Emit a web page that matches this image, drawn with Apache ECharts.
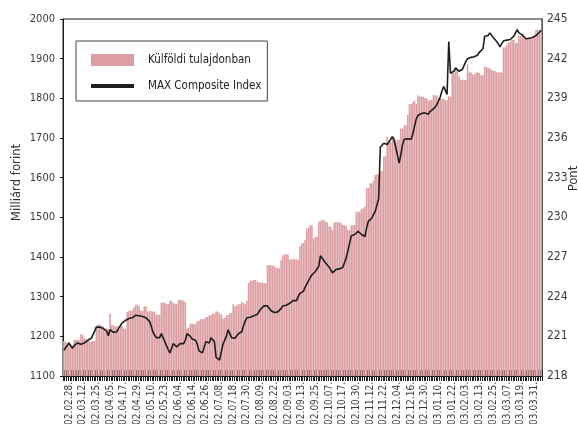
<!DOCTYPE html>
<html>
<head>
<meta charset="utf-8">
<script src="https://cdn.jsdelivr.net/npm/echarts@6.0.0/dist/echarts.min.js"></script>
<style>
	html, body { margin: 0; padding: 0; background: #fff; }
	#chart { width: 578px; height: 424px; }
</style>
</head>
<body>
<div id="chart"></div>
<script>
// dátum feliratok (minden 8. kereskedési nap)
const tickLabels = ["02.02.28.", "02.03.12.", "02.03.25.", "02.04.05.", "02.04.17.", "02.04.29.", "02.05.10.",
	"02.05.23.", "02.06.04.", "02.06.14.", "02.06.26.", "02.07.08.", "02.07.18.", "02.07.30.", "02.08.09.",
	"02.08.22.", "02.09.03.", "02.09.13.", "02.09.25.", "02.10.07.", "02.10.17.", "02.10.30.", "02.11.12.",
	"02.11.22.", "02.12.04.", "02.12.16.", "02.12.30.", "03.01.10.", "03.01.22.", "03.02.03.", "03.02.13.",
	"03.02.25.", "03.03.07.", "03.03.19.", "03.03.31."]
const firstLabel = 3
const labelStep = 8

// Külföldi tulajdonban (milliárd forint), napi
const foreignHoldings = [
	1188, 1186, 1183, 1178, 1172, 1176, 1190, 1192, 1191, 1190,
	1206, 1203, 1195, 1193, 1190, 1188, 1187, 1188, 1189, 1224,
	1230, 1229, 1226, 1225, 1219, 1220, 1218, 1257, 1229, 1228,
	1226, 1225, 1224, 1225, 1226, 1220, 1219, 1262, 1264, 1265,
	1266, 1273, 1279, 1280, 1276, 1265, 1264, 1275, 1276, 1263,
	1263, 1264, 1262, 1263, 1255, 1254, 1255, 1285, 1285, 1284,
	1282, 1281, 1290, 1289, 1284, 1282, 1281, 1291, 1292, 1291,
	1290, 1286, 1220, 1222, 1232, 1232, 1231, 1231, 1238, 1239,
	1243, 1243, 1244, 1249, 1249, 1253, 1254, 1257, 1257, 1263,
	1262, 1257, 1256, 1245, 1246, 1253, 1253, 1259, 1259, 1281,
	1276, 1277, 1281, 1281, 1286, 1285, 1281, 1290, 1335, 1340,
	1341, 1342, 1342, 1338, 1336, 1336, 1336, 1334, 1334, 1379,
	1380, 1379, 1378, 1378, 1373, 1372, 1371, 1392, 1404, 1406,
	1407, 1406, 1394, 1394, 1395, 1394, 1394, 1393, 1427, 1434,
	1436, 1442, 1472, 1474, 1480, 1480, 1446, 1450, 1451, 1489,
	1490, 1493, 1493, 1489, 1488, 1477, 1476, 1468, 1487, 1487,
	1488, 1487, 1486, 1481, 1480, 1479, 1468, 1468, 1480, 1480,
	1481, 1514, 1514, 1515, 1522, 1522, 1527, 1573, 1574, 1586,
	1586, 1592, 1607, 1608, 1608, 1616, 1617, 1653, 1655, 1703,
	1690, 1689, 1703, 1703, 1695, 1695, 1696, 1724, 1724, 1732,
	1732, 1758, 1785, 1786, 1790, 1794, 1786, 1808, 1804, 1805,
	1804, 1801, 1800, 1795, 1795, 1796, 1808, 1808, 1807, 1801,
	1801, 1799, 1799, 1795, 1795, 1805, 1804, 1863, 1864, 1876,
	1876, 1855, 1846, 1847, 1846, 1846, 1886, 1865, 1865, 1860,
	1860, 1865, 1865, 1864, 1858, 1858, 1879, 1879, 1876, 1876,
	1872, 1869, 1869, 1866, 1865, 1866, 1865, 1928, 1929, 1935,
	1941, 1942, 1947, 1947, 1939, 1940, 1958, 1958, 1957, 1950,
	1950, 1951, 1952, 1951, 1950, 1954, 1972, 1972, 1971, 1968
]

// MAX Composite Index (pont), napi
const maxIndex = [
	219.95, 220.1, 220.3, 220.5, 220.5, 220.1, 220.3, 220.45, 220.5, 220.5,
	220.4, 220.4, 220.5, 220.6, 220.7, 220.8, 220.85, 221.0, 221.4, 221.7,
	221.7, 221.7, 221.65, 221.6, 221.6, 221.4, 221.05, 221.5, 221.35, 221.3,
	221.35, 221.35, 221.6, 221.8, 222.0, 222.1, 222.2, 222.25, 222.35, 222.4,
	222.4, 222.5, 222.6, 222.7, 222.55, 222.5, 222.5, 222.45, 222.4, 222.3,
	222.15, 221.8, 221.35, 221.1, 220.9, 220.9, 220.9, 221.2, 220.9, 220.6,
	220.3, 220.0, 219.75, 220.1, 220.45, 220.3, 220.2, 220.35, 220.45, 220.45,
	220.45, 220.7, 221.2, 221.1, 221.0, 220.8, 220.75, 220.7, 220.4, 219.9,
	219.75, 219.75, 219.9, 220.6, 220.45, 220.5, 220.9, 220.8, 220.6, 219.4,
	219.25, 219.2, 219.06, 220.4, 220.4, 221.0, 221.5, 221.2, 220.9, 220.85,
	220.85, 221.0, 221.2, 221.25, 221.35, 221.8, 222.15, 222.4, 222.5, 222.45,
	222.45, 222.55, 222.6, 222.65, 222.8, 223.05, 223.2, 223.3, 223.35, 223.3,
	223.2, 222.95, 222.85, 222.8, 222.85, 222.85, 222.85, 223.1, 223.3, 223.35,
	223.35, 223.4, 223.5, 223.6, 223.7, 223.7, 223.7, 224.0, 224.25, 224.3,
	224.4, 224.7, 224.95, 225.2, 225.45, 225.65, 225.8, 225.9, 226.0, 226.3,
	227.1, 226.9, 226.75, 226.55, 226.45, 226.25, 226.1, 225.8, 225.85, 226.05,
	226.1, 226.1, 226.15, 226.2, 226.2, 226.9, 227.45, 227.6, 228.6, 228.75,
	228.7, 228.7, 228.95, 228.8, 228.7, 228.7, 228.55, 229.2, 229.7, 229.85,
	229.95, 230.2, 230.45, 230.6, 231.4, 235.3, 235.35, 235.6, 235.75, 235.5,
	235.7, 235.9, 236.1, 235.85, 235.3, 234.7, 234.1, 234.75, 235.5, 235.9,
	236.05, 235.95, 235.9, 235.9, 236.3, 236.9, 237.45, 237.7, 237.8, 237.85,
	237.8, 237.9, 237.85, 237.8, 238.0, 238.1, 238.2, 238.35, 238.5, 238.8,
	239.1, 239.55, 239.9, 239.9, 239.3, 243.3, 240.9, 241.0, 241.05, 241.3,
	241.25, 241.05, 240.95, 241.2, 241.2, 241.8, 242.0, 242.05, 242.1, 242.15,
	242.15, 242.15, 242.3, 242.5, 242.6, 242.75, 243.7, 243.8, 243.75, 243.95,
	243.85, 243.6, 243.45, 243.3, 243.1, 242.9, 243.15, 243.35, 243.4, 243.4,
	243.4, 243.45, 243.55, 243.7, 243.95, 244.2, 243.95, 243.8, 243.8, 243.7,
	243.5, 243.45, 243.55, 243.6, 243.6, 243.65, 243.75, 243.85, 244.0, 244.15
]

const isLabelDay = (i) => i >= firstLabel && (i - firstLabel) % labelStep === 0
const categories = foreignHoldings.map((v, i) => isLabelDay(i) ? tickLabels[(i - firstLabel) / labelStep] : "n" + i)

const font = "'Liberation Sans Narrow', 'DejaVu Sans Condensed', 'Roboto', sans-serif"
const labelColor = "#3a3a3a"

const chart = echarts.init(document.getElementById("chart"))
chart.setOption({
	animation: false,
	backgroundColor: "#fff",
	textStyle: { fontFamily: font },
	grid: {
		left: 63,
		right: 36,
		top: 19,
		bottom: 48,
		outerBoundsMode: "none",
		containLabel: false,
		show: true,
		borderColor: "#1a1a1a",
		borderWidth: 1
	},
	legend: {
		orient: "vertical",
		left: 76,
		top: 41,
		padding: [13, 6, 9, 13],
		itemWidth: 43,
		itemHeight: 12,
		itemGap: 14,
		borderColor: "#444",
		borderWidth: 1,
		textStyle: { fontFamily: font, fontSize: 11.5, color: "#222", padding: [0, 0, 0, 9] },
		data: [
			{ name: "Külföldi tulajdonban", icon: "rect" },
			{ name: "MAX Composite Index", itemStyle: { opacity: 0 }, lineStyle: { width: 4, color: "#1e1e1e" } }
		]
	},
	xAxis: [
		{
			type: "category",
			data: categories,
			boundaryGap: true,
			axisLine: { lineStyle: { color: "#1a1a1a", width: 1 } },
			axisTick: { show: true, interval: 0, length: 5, lineStyle: { color: "#222" } },
			axisLabel: {
				interval: (i) => isLabelDay(i),
				rotate: 90,
				margin: 6,
				fontSize: 10,
				color: labelColor,
				fontFamily: font
			}
		},
		{
			type: "category",
			data: categories,
			position: "bottom",
			boundaryGap: true,
			axisLine: { show: false },
			axisTick: { show: true, inside: true, interval: 0, length: 6, lineStyle: { color: "#222" } },
			axisLabel: { show: false }
		}
	],
	yAxis: [
		{
			type: "value",
			min: 1100,
			max: 2000,
			interval: 100,
			name: "Milliárd forint",
			nameLocation: "middle",
			nameRotate: 90,
			nameGap: 40,
			nameMoveOverlap: false,
			nameTextStyle: { fontSize: 13, color: "#333", fontFamily: font, padding: [0, 0, 0, 30] },
			axisLine: { show: true, lineStyle: { color: "#1a1a1a" } },
			axisTick: { show: true, length: 3, lineStyle: { color: "#1a1a1a" } },
			axisLabel: { fontSize: 11, color: labelColor, margin: 8, fontFamily: font, formatter: (v) => String(v) },
			splitLine: { show: false }
		},
		{
			type: "value",
			position: "right",
			min: 218,
			max: 245,
			interval: 3,
			name: "Pont",
			nameLocation: "middle",
			nameRotate: 90,
			nameGap: 25,
			nameMoveOverlap: false,
			nameTextStyle: { fontSize: 13, color: "#333", fontFamily: font, padding: [0, 0, 0, 38] },
			axisLine: { show: true, lineStyle: { color: "#555" } },
			axisTick: { show: false },
			axisLabel: { fontSize: 12, color: labelColor, margin: 5, fontFamily: font },
			splitLine: { show: false }
		}
	],
	series: [
		{
			name: "Külföldi tulajdonban",
			type: "bar",
			xAxisIndex: 0,
			yAxisIndex: 0,
			data: foreignHoldings,
			barCategoryGap: "10%",
			itemStyle: { color: "#dc9ea2" }
		},
		{
			name: "MAX Composite Index",
			type: "line",
			xAxisIndex: 1,
			yAxisIndex: 1,
			data: maxIndex,
			symbol: "none",
			lineStyle: { color: "#1e1e1e", width: 1.6 },
			itemStyle: { color: "#1e1e1e" }
		}
	]
})
</script>
</body>
</html>
